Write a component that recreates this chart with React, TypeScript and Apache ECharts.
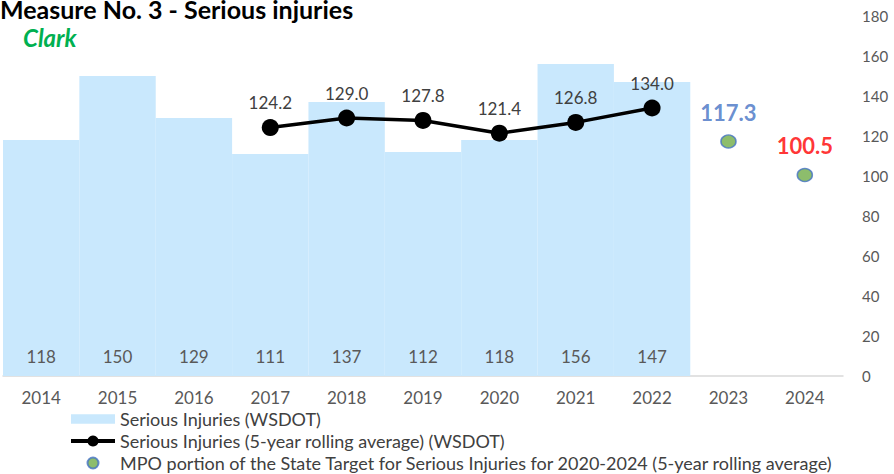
import React, { useEffect, useRef } from "react";
import * as echarts from "echarts";

const years = ["2014", "2015", "2016", "2017", "2018", "2019", "2020", "2021", "2022", "2023", "2024"];
const seriousInjuries = [118, 150, 129, 111, 137, 112, 118, 156, 147, null, null];
const rollingAverage = [null, null, null, 124.2, 129.0, 127.8, 121.4, 126.8, 134.0, null, null];
const mpoTarget = [null, null, null, null, null, null, null, null, null, 117.3, 100.5];
const targetLabelColors = ["#4472C4", "#FF0000"];
const yTicks = { min: 0, max: 180, interval: 20 };

const FONT = "Lato, 'Open Sans', sans-serif";

const BAR_ICON = "path://M0,0L42,0L42,9L0,9Z";
const DOT_ICON = "path://M0,0L0,0M44,14L44,14M16.5,7A5.5,5.5 0 1,0 27.5,7A5.5,5.5 0 1,0 16.5,7Z";

export default function App() {
  const ref = useRef<HTMLDivElement>(null);
  useEffect(() => {
    if (!ref.current) return;
    const chart = echarts.init(ref.current, null, { renderer: "svg" });
    let targetIdx = 0;
    const targetData = mpoTarget.map((v) => {
      if (v == null) return null;
      const c = targetLabelColors[targetIdx++];
      return { value: v, label: { color: c } };
    });
    chart.setOption({
      animation: false,
      textStyle: { fontFamily: FONT },
      grid: { left: 3, right: 51, top: 16, bottom: 98, containLabel: false },
      graphic: [
        {
          type: "text",
          left: 0,
          top: -4,
          style: { text: "Measure No. 3 - Serious injuries", font: `bold 25px ${FONT}`, fill: "#000" },
        },
        {
          type: "text",
          left: 23,
          top: 25,
          style: { text: "Clark", font: `italic bold 24px ${FONT}`, fill: "#00B050" },
        },
      ],
      legend: {
        orient: "vertical",
        left: 64,
        top: 405,
        height: 69,
        itemWidth: 44,
        itemHeight: 14,
        itemGap: 4,
        symbolKeepAspect: true,
        textStyle: { fontSize: 18, lineHeight: 18, color: "#404040", fontFamily: FONT },
        data: [
          { name: "Serious Injuries (WSDOT)", icon: BAR_ICON },
          {
            name: "Serious Injuries (5-year rolling average) (WSDOT)",
            lineStyle: { width: 4, color: "#000" },
          },
          {
            name: "MPO portion of the State Target for Serious Injuries for 2020-2024 (5-year rolling average)",
            icon: DOT_ICON,
          },
        ],
      },
      xAxis: {
        type: "category",
        data: years,
        axisLine: { show: true, lineStyle: { color: "#D9D9D9", width: 1.5 } },
        axisTick: { show: false },
        axisLabel: { fontSize: 17, color: "#595959", margin: 13 },
      },
      yAxis: {
        type: "value",
        position: "right",
        min: yTicks.min,
        max: yTicks.max,
        interval: yTicks.interval,
        splitLine: { show: false },
        axisLine: { show: false },
        axisTick: { show: false },
        axisLabel: { fontSize: 15, color: "#595959", margin: 19 },
      },
      series: [
        {
          name: "Serious Injuries (WSDOT)",
          type: "bar",
          data: seriousInjuries,
          barCategoryGap: "0%",
          itemStyle: { color: "#C9E8FD" },
          label: {
            show: true,
            position: "insideBottom",
            distance: 11,
            fontSize: 17,
            color: "#595959",
          },
          z: 1,
        },
        {
          name: "Serious Injuries (5-year rolling average) (WSDOT)",
          type: "line",
          data: rollingAverage,
          symbol: "circle",
          symbolSize: 17,
          lineStyle: { color: "#000", width: 3.5 },
          itemStyle: { color: "#000" },
          label: {
            show: true,
            position: "top",
            distance: 8,
            fontSize: 17,
            color: "#404040",
            formatter: (p: any) => Number(p.value).toFixed(1),
          },
          z: 3,
        },
        {
          name: "MPO portion of the State Target for Serious Injuries for 2020-2024 (5-year rolling average)",
          type: "scatter",
          data: targetData,
          symbol: "circle",
          symbolSize: [15, 13],
          itemStyle: { color: "#70AD47", borderColor: "#4472C4", borderWidth: 1.5 },
          label: {
            show: true,
            position: "top",
            distance: 11,
            fontSize: 22,
            fontWeight: "bold",
            formatter: (p: any) => Number(p.value).toFixed(1),
          },
          z: 4,
        },
      ],
    });
    return () => chart.dispose();
  }, []);
  return (
    <div
      ref={ref}
      style={{ position: "absolute", left: 0, top: 0, width: 894, height: 474 }}
    />
  );
}
